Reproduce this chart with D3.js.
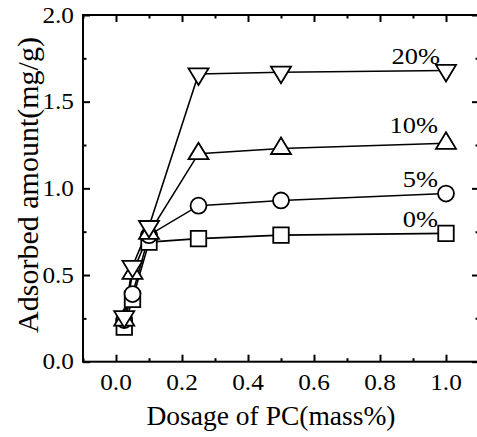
<!DOCTYPE html>
<html><head><meta charset="utf-8">
<script src="https://cdn.jsdelivr.net/npm/d3@7"></script>
<style>body{margin:0;background:#fff}svg{display:block}</style>
</head><body><svg id="c" width="477" height="437"></svg>
<script>
const dosage = [0.025, 0.05, 0.1, 0.25, 0.5, 1.0];
const series0 = [0.20, 0.36, 0.69, 0.71, 0.73, 0.74];
const series5 = [0.24, 0.39, 0.73, 0.90, 0.93, 0.97];
const series10 = [0.24, 0.51, 0.74, 1.20, 1.23, 1.26];
const series20 = [0.26, 0.55, 0.78, 1.66, 1.67, 1.68];
const seriesNames = ["0%", "5%", "10%", "20%"];
const seriesMarkers = ["square", "circle", "up", "down"];
const xTicks = [0.0, 0.2, 0.4, 0.6, 0.8, 1.0];
const yTicks = [0.0, 0.5, 1.0, 1.5, 2.0];

const FONT = "'Liberation Serif', 'Times New Roman', Tinos, serif";
const svg = d3.select("#c").attr("font-family", FONT);
const x = d3.scaleLinear().domain([-0.1, 1.1]).range([83, 479]);
const y = d3.scaleLinear().domain([0, 2]).range([361.7, 15]);

const g = svg.append("g");
g.append("rect").attr("x", x(-0.1)).attr("y", y(2)).attr("width", x(1.1) - x(-0.1)).attr("height", y(0) - y(2))
  .attr("fill", "none").attr("stroke", "#000").attr("stroke-width", 2);

const xMinor = d3.range(-0.1, 1.1001, 0.1).map(v => +v.toFixed(2)).filter(v => !xTicks.some(t => Math.abs(t - v) < 1e-6));
const yMinor = [0.25, 0.75, 1.25, 1.75];
function axisTicks(axisGen, transform, values, size) {
  const a = g.append("g").attr("transform", transform)
    .call(axisGen.tickValues(values).tickSize(size).tickFormat(""));
  a.select(".domain").remove();
  a.selectAll("line").attr("stroke", "#000").attr("stroke-width", 2);
  return a;
}
axisTicks(d3.axisBottom(x), `translate(0,${y(0)})`, xTicks, -7);
axisTicks(d3.axisBottom(x), `translate(0,${y(0)})`, xMinor, -3.5);
axisTicks(d3.axisTop(x), `translate(0,${y(2)})`, xTicks, -7);
axisTicks(d3.axisTop(x), `translate(0,${y(2)})`, xMinor, -3.5);
axisTicks(d3.axisLeft(y), `translate(${x(-0.1)},0)`, yTicks, -7);
axisTicks(d3.axisLeft(y), `translate(${x(-0.1)},0)`, yMinor, -3.5);
axisTicks(d3.axisRight(y), `translate(${x(1.1)},0)`, yTicks, -7);
axisTicks(d3.axisRight(y), `translate(${x(1.1)},0)`, yMinor, -3.5);

g.append("g").selectAll("text").data(xTicks).join("text")
  .attr("transform", d => `translate(${x(d)},390) scale(1.1,1)`).attr("text-anchor", "middle")
  .attr("font-size", 23).text(d => d.toFixed(1));
g.append("g").selectAll("text").data(yTicks).join("text")
  .attr("transform", d => `translate(74,${y(d) + 7.5}) scale(1.1,1)`).attr("text-anchor", "end")
  .attr("font-size", 23).text(d => d.toFixed(1));

svg.append("text").attr("x", 271).attr("y", 425).attr("text-anchor", "middle")
  .attr("font-size", 27.5).text("Dosage of PC(mass%)");
svg.append("text").attr("transform", "translate(38,185) rotate(-90)").attr("text-anchor", "middle")
  .attr("font-size", 30).text("Adsorbed amount(mg/g)");

const allSeries = [series0, series5, series10, series20];
const line = d3.line().x((d, i) => x(dosage[i])).y(d => y(d));
allSeries.forEach(s => {
  g.append("path").attr("d", line(s)).attr("fill", "none").attr("stroke", "#000").attr("stroke-width", 1.6);
});
const symbols = {
  square: d3.symbol().type(d3.symbolSquare).size(240),
  circle: d3.symbol().type(d3.symbolCircle).size(200)
};
function tri(up) {
  const w = 10, h = 16.5;
  const c = up ? 1 : -1;
  return `M0,${-c * h * 2 / 3}L${w},${c * h / 3}L${-w},${c * h / 3}Z`;
}
allSeries.forEach((s, k) => {
  const m = seriesMarkers[k];
  g.append("g").selectAll("path").data(s).join("path")
    .attr("transform", (d, i) => `translate(${x(dosage[i])},${y(d)})`)
    .attr("d", m === "square" ? symbols.square() : m === "circle" ? symbols.circle() : tri(m === "up"))
    .attr("fill", "#fff").attr("stroke", "#000").attr("stroke-width", 1.8);
});
const labelPos = [[438, 227], [438, 187], [438, 133], [440, 64]];
seriesNames.forEach((n, k) => {
  svg.append("text").attr("transform", `translate(${labelPos[k][0]},${labelPos[k][1]}) scale(1.15,1)`)
    .attr("text-anchor", "end").attr("font-size", 23).text(n);
});
</script></body></html>
